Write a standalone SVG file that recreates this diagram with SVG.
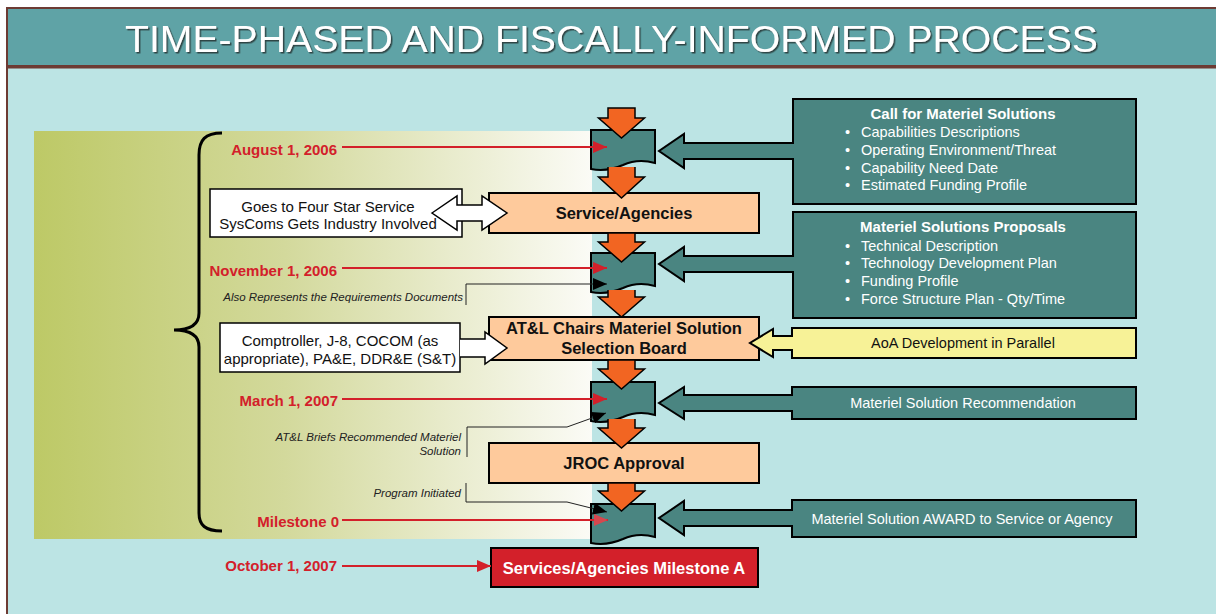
<svg xmlns="http://www.w3.org/2000/svg" width="1216" height="614" viewBox="0 0 1216 614">
<style>
.t{font-family:"Liberation Sans",Arial,sans-serif}
.date{font-family:"Liberation Sans",Arial,sans-serif;font-weight:bold;font-size:15px;fill:#D3202A;text-anchor:end}
.note{font-family:"Liberation Sans",Arial,sans-serif;font-style:italic;font-size:11.5px;fill:#222;text-anchor:end}
.pb{fill:#FECA9C;stroke:#000;stroke-width:2}
.pt{font-family:"Liberation Sans",Arial,sans-serif;font-weight:bold;font-size:16.5px;fill:#111;text-anchor:middle}
.wb{fill:#fff;stroke:#000;stroke-width:1.5}
.wt{font-family:"Liberation Sans",Arial,sans-serif;font-size:15px;fill:#111;text-anchor:middle}
.teal{fill:#4A8581;stroke:#000;stroke-width:2;stroke-linejoin:miter}
.tt{font-family:"Liberation Sans",Arial,sans-serif;font-size:14.5px;fill:#fff}
.ttb{font-family:"Liberation Sans",Arial,sans-serif;font-size:15px;font-weight:bold;fill:#fff;text-anchor:middle}
.or{fill:#F26522;stroke:#000;stroke-width:1.5;stroke-linejoin:miter}
.rl{stroke:#D3202A;stroke-width:2;fill:none}
.bl{stroke:#222;stroke-width:1;fill:none}
.wa{fill:#fff;stroke:#000;stroke-width:1.5}
</style>
<defs>
<linearGradient id="band" x1="0" y1="0" x2="1" y2="0">
<stop offset="0" stop-color="#BDC966"/>
<stop offset="0.45" stop-color="#D3D99C"/>
<stop offset="1" stop-color="#FBFBF6"/>
</linearGradient>
<path id="doc" d="M0,0 H64 V33 Q47,28 32,35 Q16,42 0,39 Z"/>
<marker id="ra" markerUnits="userSpaceOnUse" markerWidth="15" markerHeight="12" refX="14" refY="6" orient="auto">
<path d="M0,0 L14,6 L0,12 Z" fill="#D3202A"/>
</marker>
<marker id="ra2" markerUnits="userSpaceOnUse" markerWidth="15" markerHeight="12" refX="14" refY="6" orient="auto">
<path d="M0,0 L14,6 L0,12 Z" fill="#D6474E"/>
</marker>
<marker id="ba" markerUnits="userSpaceOnUse" markerWidth="15" markerHeight="12" refX="14" refY="6" orient="auto">
<path d="M0,0 L14,6 L0,12 Z" fill="#000"/>
</marker>
<filter id="sh" x="-5%" y="-20%" width="110%" height="140%">
<feDropShadow dx="1.5" dy="1.5" stdDeviation="0.3" flood-color="#2a3a3a" flood-opacity="0.9"/>
</filter>
</defs>

<g id="background">
<rect x="7" y="8" width="1214" height="610" fill="#BCE4E4" stroke="#6D3B33" stroke-width="2"/>
<rect x="7" y="8" width="1214" height="58" fill="#5FA3A6" stroke="#6D3B33" stroke-width="2"/>
<line x1="7" y1="67" x2="1216" y2="67" stroke="#6D3B33" stroke-width="3"/>
<text class="t" x="125" y="52" font-size="36" fill="#fff" textLength="973" lengthAdjust="spacingAndGlyphs" filter="url(#sh)">TIME-PHASED AND FISCALLY-INFORMED PROCESS</text>
<rect x="34" y="131" width="558" height="408" fill="url(#band)"/>
<path d="M222,133 C205,133 199,140 199,155 V313 C199,325 190,330 174,330 C190,330 199,335 199,347 V513 C199,525 205,531 222,531" fill="none" stroke="#000" stroke-width="3"/>
</g>

<g id="dates">
<text class="date" x="337" y="155">August 1, 2006</text>
<text class="date" x="337" y="276">November 1, 2006</text>
<text class="date" x="338" y="406">March 1, 2007</text>
<text class="date" x="339" y="527">Milestone 0</text>
<text class="date" x="337" y="571">October 1, 2007</text>
</g>

<g id="notes">
<text class="note" x="463" y="301">Also Represents the Requirements Documents</text>
<text class="note" x="461" y="441">AT&amp;L Briefs Recommended Materiel</text>
<text class="note" x="461" y="455">Solution</text>
<text class="note" x="461" y="497">Program Initiated</text>
</g>

<g id="node-goes">
<rect class="wb" x="210" y="189" width="252" height="48"/>
<text class="wt" x="328" y="212">Goes to Four Star Service</text>
<text class="wt" x="328" y="229">SysComs Gets Industry Involved</text>
</g>
<g id="node-comptroller">
<rect class="wb" x="220" y="323" width="240" height="49"/>
<text class="wt" x="340" y="346">Comptroller, J-8, COCOM (as</text>
<text class="wt" x="340" y="364">appropriate), PA&amp;E, DDR&amp;E (S&amp;T)</text>
</g>

<g id="node-service">
<rect class="pb" x="489" y="193" width="270" height="40"/>
<text class="pt" x="624" y="219">Service/Agencies</text>
</g>
<g id="node-atl">
<rect class="pb" x="489" y="317" width="270" height="43"/>
<text class="pt" x="624" y="334">AT&amp;L Chairs Materiel Solution</text>
<text class="pt" x="624" y="354">Selection Board</text>
</g>
<g id="node-jroc">
<rect class="pb" x="489" y="443" width="270" height="40"/>
<text class="pt" x="624" y="469">JROC Approval</text>
</g>
<g id="node-milestone-a">
<rect x="491" y="548" width="267" height="39" fill="#D3202A" stroke="#000" stroke-width="2"/>
<text class="pt" x="624" y="574" fill="#fff" style="fill:#fff">Services/Agencies Milestone A</text>
</g>

<g id="node-call">
<path class="teal" d="M793,99 H1136 V204 H793 V159 H684 V168 L659,151 L684,134 V143 H793 Z"/>
<text class="ttb" x="963" y="119">Call for Materiel Solutions</text>
<g class="tt">
<text x="845" y="137">•</text><text x="861" y="137">Capabilities Descriptions</text>
<text x="845" y="155">•</text><text x="861" y="155">Operating Environment/Threat</text>
<text x="845" y="173">•</text><text x="861" y="173">Capability Need Date</text>
<text x="845" y="190">•</text><text x="861" y="190">Estimated Funding Profile</text>
</g>
</g>
<g id="node-proposals">
<path class="teal" d="M793,212 H1136 V318 H793 V272 H684 V281 L659,264 L684,247 V256 H793 Z"/>
<text class="ttb" x="963" y="232">Materiel Solutions Proposals</text>
<g class="tt">
<text x="845" y="251">•</text><text x="861" y="251">Technical Description</text>
<text x="845" y="268">•</text><text x="861" y="268">Technology Development Plan</text>
<text x="845" y="286">•</text><text x="861" y="286">Funding Profile</text>
<text x="845" y="304">•</text><text x="861" y="304">Force Structure Plan - Qty/Time</text>
</g>
</g>
<g id="node-aoa">
<path d="M792,328 H1136 V358 H792 V350 H773 V357 L750,343 L773,329 V336 H792 Z" fill="#F7F297" stroke="#000" stroke-width="2"/>
<text class="t" x="963" y="348" font-size="14.5" fill="#111" text-anchor="middle">AoA Development in Parallel</text>
</g>
<g id="node-recommendation">
<path class="teal" d="M792,387 H1136 V419 H792 V411 H684 V419 L659,403 L684,387 V395 H792 Z"/>
<text class="tt" x="963" y="408" text-anchor="middle">Materiel Solution Recommendation</text>
</g>
<g id="node-award">
<path class="teal" d="M792,500 H1136 V537 H792 V526 H684 V535 L659,518 L684,501 V510 H792 Z"/>
<text class="tt" x="962" y="524" text-anchor="middle">Materiel Solution AWARD to Service or Agency</text>
</g>

<g id="node-doc1"><use href="#doc" x="591" y="130" class="teal"/></g>
<g id="node-doc2"><use href="#doc" x="591" y="253" class="teal"/></g>
<g id="node-doc3"><use href="#doc" x="591" y="382" class="teal"/></g>
<g id="node-doc4"><use href="#doc" x="591" y="504" class="teal"/></g>

<g id="connectors">
<path class="or" d="M608,108 H635 V118 H644.5 L621.5,138 L598.5,118 H608 Z"/>
<path class="or" d="M608,167 V177 H598.5 L621.5,198 L644.5,177 H635 V167"/>
<path class="or" d="M608,233 H635 V242 H644.5 L621.5,262 L598.5,242 H608 Z"/>
<path class="or" d="M608,290 V297 H598.5 L621.5,317 L644.5,297 H635 V290"/>
<path class="or" d="M608,360 H635 V369 H644.5 L621.5,389 L598.5,369 H608 Z"/>
<path class="or" d="M608,419 V428 H598.5 L621.5,448 L644.5,428 H635 V419"/>
<path class="or" d="M608,483 H635 V491 H644.5 L621.5,511 L598.5,491 H608 Z"/>

<path class="wa" d="M432,213 L457,196 V205 H482 V196 L507,213 L482,230 V221 H457 V230 Z"/>
<path class="wa" d="M460,339 H485 V332 L507,348 L485,364 V357 H460"/>

<line class="rl" x1="342" y1="147" x2="607" y2="147" marker-end="url(#ra)"/>
<line class="rl" x1="342" y1="268" x2="607" y2="268" marker-end="url(#ra)"/>
<line class="rl" x1="342" y1="399" x2="607" y2="399" marker-end="url(#ra)"/>
<line class="rl" x1="342" y1="520" x2="608" y2="520" stroke="#D6474E" marker-end="url(#ra2)"/>
<line class="rl" x1="342" y1="566" x2="491" y2="566" marker-end="url(#ra)"/>

<path class="bl" d="M466,305 V284 H607" marker-end="url(#ba)"/>
<path class="bl" d="M467,457 V427 H567 L606,413" marker-end="url(#ba)"/>
<path class="bl" d="M466,483 V502 H567 L607,512" marker-end="url(#ba)"/>
</g>
</svg>
